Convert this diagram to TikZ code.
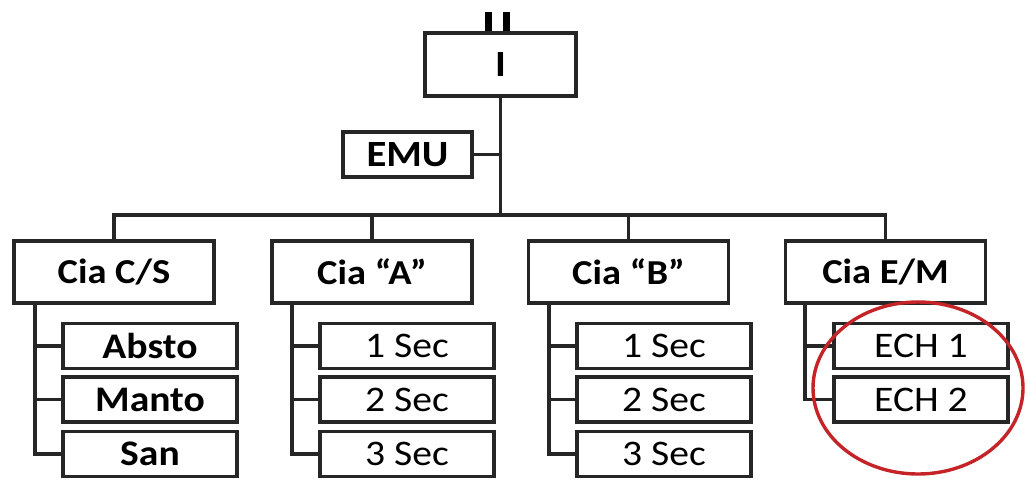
\documentclass[tikz,border=0pt]{standalone}
\usepackage{fontspec}
\setmainfont[FakeStretch=1.1]{Carlito}
\usetikzlibrary{shapes.geometric}
\begin{document}
\begin{tikzpicture}[x=1pt,y=-1pt,
  box/.style={draw=black!85,line width=3.1pt,inner sep=0pt,anchor=center},
  cia/.style={box,minimum width=200pt,minimum height=62pt,font=\fontsize{35}{38}\selectfont\bfseries},
  subb/.style={box,minimum width=174pt,minimum height=45pt,font=\fontsize{36}{38}\selectfont\bfseries},
  subr/.style={box,minimum width=174pt,minimum height=45pt,font=\fontsize{36}{38}\selectfont},
  conn/.style={draw=black!85,line width=3.1pt},
  ring/.style={draw={rgb,255:red,196;green,36;blue,40},line width=3.4pt}]
\useasboundingbox (0,0) rectangle (1025,488);
% top
\node[box,minimum width=151pt,minimum height=63pt,font=\fontsize{37}{40}\selectfont\bfseries] (I) at (500.5,64.5) {I};
\coordinate (b1t) at (488.5,12);
\coordinate (b2t) at (506.5,12);
\draw[line width=7pt] (b1t) -- (b1t |- I.north);
\draw[line width=7pt] (b2t) -- (b2t |- I.north);
\node[box,minimum width=129pt,minimum height=45pt,font=\fontsize{37}{40}\selectfont\bfseries] (EMU) at (407.5,154.5) {EMU};
\coordinate (hub) at (500.5,215);
% companies
\node[cia] (cs) at (114,272) {Cia C/S};
\node[cia] (ca) at (372,272) {Cia “A”};
\node[cia] (cb) at (628.5,272) {Cia “B”};
\node[cia] (ce) at (885.5,272) {Cia E/M};
\draw[conn] (I.south) -- (hub);
\draw[conn] (EMU.east) -- (EMU.east -| hub);
\draw[conn] (cs.north) -- (cs.north |- hub) -- (ce.north |- hub) -- (ce.north);
\draw[conn] (ca.north) -- (ca.north |- hub);
\draw[conn] (cb.north) -- (cb.north |- hub);
% sub units
\node[subb] (s1) at (150,346) {Absto};
\node[subb] (s2) at (150,399.5) {Manto};
\node[subb] (s3) at (150,454) {San};
\node[subr] (a1) at (407,346) {1 Sec};
\node[subr] (a2) at (407,399.5) {2 Sec};
\node[subr] (a3) at (407,454) {3 Sec};
\node[subr] (b1) at (664,346) {1 Sec};
\node[subr] (b2) at (664,399.5) {2 Sec};
\node[subr] (b3) at (664,454) {3 Sec};
\node[subr] (e1) at (921,346) {ECH 1};
\node[subr] (e2) at (921,399.5) {ECH 2};
\coordinate (vs) at (35,303);
\coordinate (va) at (292,303);
\coordinate (vb) at (549,303);
\coordinate (ve) at (805,303);
\draw[conn] (vs) |- (s3.west);
\draw[conn] (vs |- s1.west) -- (s1.west);
\draw[conn] (vs |- s2.west) -- (s2.west);
\draw[conn] (va) |- (a3.west);
\draw[conn] (va |- a1.west) -- (a1.west);
\draw[conn] (va |- a2.west) -- (a2.west);
\draw[conn] (vb) |- (b3.west);
\draw[conn] (vb |- b1.west) -- (b1.west);
\draw[conn] (vb |- b2.west) -- (b2.west);
\draw[conn] (ve) |- (e2.west);
\draw[conn] (ve |- e1.west) -- (e1.west);
% highlight
\node[ring,ellipse,minimum width=210pt,minimum height=172pt,inner sep=0pt] (ring) at (918,388) {};
\end{tikzpicture}
\end{document}
